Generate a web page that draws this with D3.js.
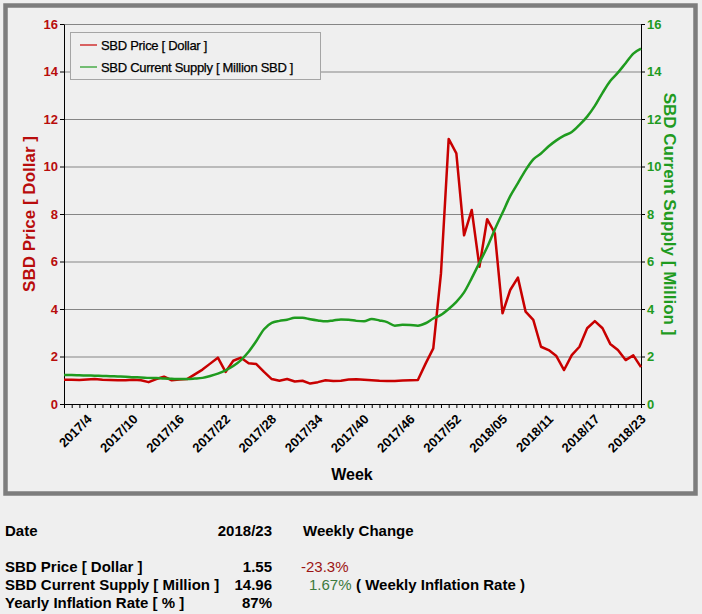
<!DOCTYPE html>
<html>
<head>
<meta charset="utf-8">
<script src="https://cdn.jsdelivr.net/npm/d3@7"></script>
<style>
  body { margin: 0; background: #efefef; }
  svg { display: block; font-family: "Liberation Sans", Arial, sans-serif; }
</style>
</head>
<body>
<div id="chart"></div>
<script>
// week labels (one point per week)
var weeks = [
  "2017/1","2017/2","2017/3","2017/4","2017/5","2017/6","2017/7","2017/8","2017/9","2017/10",
  "2017/11","2017/12","2017/13","2017/14","2017/15","2017/16","2017/17","2017/18","2017/19","2017/20",
  "2017/21","2017/22","2017/23","2017/24","2017/25","2017/26","2017/27","2017/28","2017/29","2017/30",
  "2017/31","2017/32","2017/33","2017/34","2017/35","2017/36","2017/37","2017/38","2017/39","2017/40",
  "2017/41","2017/42","2017/43","2017/44","2017/45","2017/46","2017/47","2017/48","2017/49","2017/50",
  "2017/51","2017/52","2017/53","2018/01","2018/02","2018/03","2018/04","2018/05","2018/06","2018/07",
  "2018/08","2018/09","2018/10","2018/11","2018/12","2018/13","2018/14","2018/15","2018/16","2018/17",
  "2018/18","2018/19","2018/20","2018/21","2018/22","2018/23"
];

// SBD price in dollar
var price = [
  1.02, 1.02, 1.01, 1.03, 1.05, 1.02, 1.01, 1.00, 1.00, 1.02,
  1.00, 0.92, 1.05, 1.15, 1.00, 1.03, 1.05, 1.25, 1.45, 1.70,
  1.95, 1.35, 1.82, 1.95, 1.72, 1.68, 1.35, 1.05, 0.98, 1.05,
  0.95, 0.98, 0.86, 0.92, 1.00, 0.97, 0.98, 1.03, 1.04, 1.02,
  1.00, 0.98, 0.97, 0.97, 0.99, 1.00, 1.01, 1.70, 2.34, 5.50,
  11.16, 10.55, 7.10, 8.17, 5.78, 7.78, 7.19, 3.82, 4.80, 5.32,
  3.89, 3.54, 2.41, 2.27, 2.02, 1.43, 2.06, 2.41, 3.19, 3.49,
  3.19, 2.53, 2.27, 1.85, 2.05, 1.55
];

// SBD current supply in million SBD
var supply = [
  1.22, 1.22, 1.21, 1.20, 1.19, 1.18, 1.17, 1.16, 1.15, 1.13,
  1.12, 1.10, 1.09, 1.07, 1.06, 1.05, 1.05, 1.07, 1.10, 1.18,
  1.28, 1.42, 1.60, 1.85, 2.20, 2.65, 3.15, 3.42, 3.50, 3.55,
  3.63, 3.63, 3.57, 3.52, 3.48, 3.52, 3.56, 3.55, 3.50, 3.48,
  3.58, 3.52, 3.45, 3.30, 3.34, 3.33, 3.30, 3.40, 3.60, 3.75,
  4.00, 4.30, 4.70, 5.30, 5.95, 6.60, 7.35, 8.05, 8.75, 9.30,
  9.85, 10.30, 10.55, 10.85, 11.10, 11.30, 11.45, 11.75, 12.10, 12.55,
  13.10, 13.60, 13.95, 14.35, 14.75, 14.96
];

var yTicks = [0, 2, 4, 6, 8, 10, 12, 14, 16];

var seriesNames = ["SBD Price [ Dollar ]", "SBD Current Supply [ Million SBD ]"];

// summary table below the chart
var tableRows = [
  {label: "SBD Price [ Dollar ]", value: "1.55", change: "-23.3%", note: ""},
  {label: "SBD Current Supply [ Million ]", value: "14.96", change: "1.67%", note: "( Weekly Inflation Rate )"},
  {label: "Yearly Inflation Rate [ % ]", value: "87%", change: "", note: ""}
];

var W = 702, H = 614;
var red = "#c80000", redText = "#b80c0c", green = "#1f9b1f";

var margin = {top: 24, right: 61, bottom: 210, left: 64},
    width = W - margin.left - margin.right,
    height = H - margin.top - margin.bottom;

var svg = d3.select("#chart").append("svg")
    .attr("width", W)
    .attr("height", H);

svg.append("rect")
    .attr("x", 0).attr("y", 0).attr("width", W).attr("height", H)
    .attr("fill", "#efefef");

// outer frame
svg.append("rect")
    .attr("x", 5.5).attr("y", 5.5).attr("width", 690).attr("height", 488)
    .attr("fill", "none")
    .attr("stroke", "#7d7d7d")
    .attr("stroke-width", 4.5);

var g = svg.append("g")
    .attr("transform", "translate(" + margin.left + "," + margin.top + ")");

var x = d3.scaleLinear().domain([0, weeks.length - 1]).range([0, width]);
var yL = d3.scaleLinear().domain([0, 16]).range([height, 0]);
var yR = d3.scaleLinear().domain([0, 16]).range([height, 0]);

// grid
g.append("g")
    .selectAll("line")
    .data(yTicks.filter(function (d) { return d > 0; }))
    .enter().append("line")
    .attr("x1", 0).attr("x2", width)
    .attr("y1", function (d) { return yL(d) + 0.5; })
    .attr("y2", function (d) { return yL(d) + 0.5; })
    .attr("stroke", "#858585")
    .attr("stroke-width", 1);

// left axis
var leftAxis = g.append("g")
    .call(d3.axisLeft(yL).tickValues(yTicks).tickSize(4).tickSizeOuter(0));
leftAxis.select(".domain").attr("stroke", "#000");
leftAxis.selectAll("text")
    .attr("fill", redText)
    .style("font-size", "13px")
    .style("font-weight", "bold")
    .attr("x", -6);

// right axis
var rightAxis = g.append("g")
    .attr("transform", "translate(" + width + ",0)")
    .call(d3.axisRight(yR).tickValues(yTicks).tickSize(4).tickSizeOuter(0));
rightAxis.select(".domain").attr("stroke", "#000");
rightAxis.selectAll("text")
    .attr("fill", green)
    .style("font-size", "13px")
    .style("font-weight", "bold")
    .attr("x", 6);

// bottom axis: one tick per week, label every 6th week
var bottomAxis = g.append("g")
    .attr("transform", "translate(0," + height + ")")
    .call(d3.axisBottom(x)
        .tickValues(d3.range(weeks.length))
        .tickSize(4)
        .tickSizeOuter(0)
        .tickFormat(function (i) { return (weeks.length - 1 - i) % 6 == 0 ? weeks[i] : ""; }));
bottomAxis.select(".domain").attr("stroke", "#000");
bottomAxis.selectAll("text")
    .attr("fill", "#000")
    .style("font-size", "13px")
    .style("font-weight", "bold")
    .attr("text-anchor", "end")
    .attr("y", 0).attr("dy", 0)
    .attr("transform", "translate(5,16) rotate(-45)");

// axis titles
svg.append("text")
    .attr("transform", "translate(35," + (margin.top + height / 2) + ") rotate(-90)")
    .attr("text-anchor", "middle")
    .attr("fill", redText)
    .style("font-size", "17px")
    .style("font-weight", "bold")
    .text("SBD Price [ Dollar ]");

svg.append("text")
    .attr("transform", "translate(664," + (margin.top + height / 2) + ") rotate(90)")
    .attr("text-anchor", "middle")
    .attr("fill", green)
    .style("font-size", "17px")
    .style("font-weight", "bold")
    .text("SBD Current Supply [ Million ]");

svg.append("text")
    .attr("x", 352).attr("y", 480)
    .attr("text-anchor", "middle")
    .attr("fill", "#000")
    .style("font-size", "16px")
    .style("font-weight", "bold")
    .text("Week");

// lines
var priceLine = d3.line()
    .x(function (d, i) { return x(i); })
    .y(function (d) { return yL(d); });

var supplyLine = d3.line()
    .x(function (d, i) { return x(i); })
    .y(function (d) { return yR(d); })
    .curve(d3.curveMonotoneX);

g.append("path")
    .datum(price)
    .attr("d", priceLine)
    .attr("fill", "none")
    .attr("stroke", red)
    .attr("stroke-width", 2.5)
    .attr("stroke-linejoin", "round");

g.append("path")
    .datum(supply)
    .attr("d", supplyLine)
    .attr("fill", "none")
    .attr("stroke", green)
    .attr("stroke-width", 2.5)
    .attr("stroke-linejoin", "round");

// legend
var legend = svg.append("g").attr("transform", "translate(70,32)");
legend.append("rect")
    .attr("x", 0.5).attr("y", 0.5).attr("width", 250).attr("height", 47)
    .attr("fill", "#efefef")
    .attr("stroke", "#a5a5a5");
var legendColors = [red, green];
seriesNames.forEach(function (name, i) {
    var ly = 13 + i * 22;
    legend.append("line")
        .attr("x1", 10).attr("x2", 27)
        .attr("y1", ly).attr("y2", ly)
        .attr("stroke", legendColors[i])
        .attr("stroke-width", 1.2);
    legend.append("text")
        .attr("x", 31).attr("y", ly + 4.5)
        .attr("fill", "#000")
        .style("font-size", "13px")
        .style("letter-spacing", "-0.3px")
        .style("stroke", "#000")
        .style("stroke-width", "0.25px")
        .text(name);
});

// table below chart
var table = svg.append("g")
    .style("font-size", "15px")
    .style("font-weight", "bold");

table.append("text").attr("x", 5).attr("y", 536).text("Date");
table.append("text").attr("x", 272).attr("y", 536).attr("text-anchor", "end").text(weeks[weeks.length - 1]);
table.append("text").attr("x", 303).attr("y", 536).text("Weekly Change");

tableRows.forEach(function (row, i) {
    var ty = 572 + i * 18;
    table.append("text").attr("x", 5).attr("y", ty).text(row.label);
    table.append("text").attr("x", 272).attr("y", ty).attr("text-anchor", "end").text(row.value);
    if (row.change) {
        table.append("text")
            .attr("x", i == 0 ? 301 : 309).attr("y", ty)
            .attr("fill", i == 0 ? "#9c1414" : "#3d7a3d")
            .style("font-weight", "normal")
            .text(row.change);
    }
    if (row.note) {
        table.append("text").attr("x", 356).attr("y", ty).text(row.note);
    }
});
</script>
</body>
</html>
